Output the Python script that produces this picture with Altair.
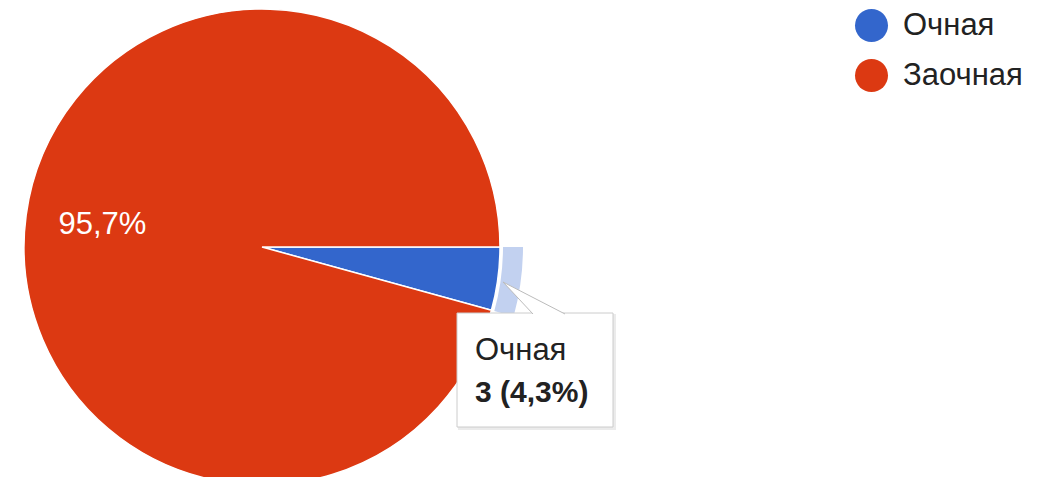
import math
import altair as alt
import pandas as pd

categories = ["Очная", "Заочная"]
counts = [3, 67]
colors = ["#3366cc", "#dc3912"]

total = sum(counts)
pcts = [c / total * 100 for c in counts]
labels = ["" if p < 5 else f"{p:.1f}%".replace(".", ",") for p in pcts]

df = pd.DataFrame({
    "cat": categories,
    "count": counts,
    "idx": list(range(len(categories))),
    "label": labels,
})

CX, CY, R = 254, 239, 238
FONT = "Arial"

theta = alt.Theta("count:Q", stack=True,
                  scale=alt.Scale(range=[math.pi / 2, math.pi / 2 + 2 * math.pi]))
order = alt.Order("idx:Q")

pie = alt.Chart(df).mark_arc(radius=R, stroke="white", strokeWidth=1.5).encode(
    theta=theta,
    order=order,
    color=alt.Color("cat:N",
                    scale=alt.Scale(domain=categories, range=colors),
                    sort=categories,
                    legend=alt.Legend(title=None, orient="none", legendX=847, legendY=1,
                                      symbolType="circle", symbolSize=1089,
                                      symbolStrokeWidth=0, labelFontSize=31,
                                      labelFont=FONT, labelColor="#222222",
                                      labelOffset=15, rowPadding=17, padding=0,
                                      labelBaseline="middle")),
    x=alt.value(CX), y=alt.value(CY),
)

ring = alt.Chart(df).mark_arc(radius=261, radius2=241, fill="#c2d1f0").encode(
    theta=theta,
    order=order,
    opacity=alt.condition(alt.datum.cat == categories[0], alt.value(1), alt.value(0)),
    x=alt.value(CX), y=alt.value(CY),
)

pct_text = alt.Chart(df).mark_text(radius=161, fontSize=31, font=FONT, color="white").encode(
    theta=theta,
    order=order,
    text="label:N",
    x=alt.value(CX), y=alt.value(CY),
)

# hover tooltip annotation (static)
tip_df = pd.DataFrame({
    "name": [categories[0]],
    "value": [f"{counts[0]} ({pcts[0]:.1f}%)".replace(".", ",")],
})

shadow = alt.Chart(tip_df).mark_rect(fill="#000000", opacity=0.08).encode(
    x=alt.value(450), x2=alt.value(608), y=alt.value(306), y2=alt.value(422))
box = alt.Chart(tip_df).mark_rect(fill="white", stroke="#cccccc", strokeWidth=1).encode(
    x=alt.value(449), x2=alt.value(605), y=alt.value(305), y2=alt.value(419))
pointer = alt.Chart(tip_df).mark_point(
    shape="M30,32L0,0L62,32", size=4, filled=True, fill="white",
    stroke="#bbbbbb", strokeWidth=1, opacity=1).encode(
    x=alt.value(495), y=alt.value(274))
tip_name = alt.Chart(tip_df).mark_text(align="left", baseline="alphabetic", fontSize=31,
                                       font=FONT, color="#222222").encode(
    text="name:N", x=alt.value(467), y=alt.value(352))
tip_val = alt.Chart(tip_df).mark_text(align="left", baseline="alphabetic", fontSize=30,
                                      font=FONT, fontWeight="bold", color="#222222").encode(
    text="value:N", x=alt.value(467), y=alt.value(394))

chart = alt.layer(pie, ring, pct_text, shadow, box, pointer, tip_name, tip_val).properties(
    width=1032, height=469, padding=0, autosize="none"
).configure_view(stroke=None)

chart.save("out.html", embed_options={"renderer": "svg", "actions": False})
